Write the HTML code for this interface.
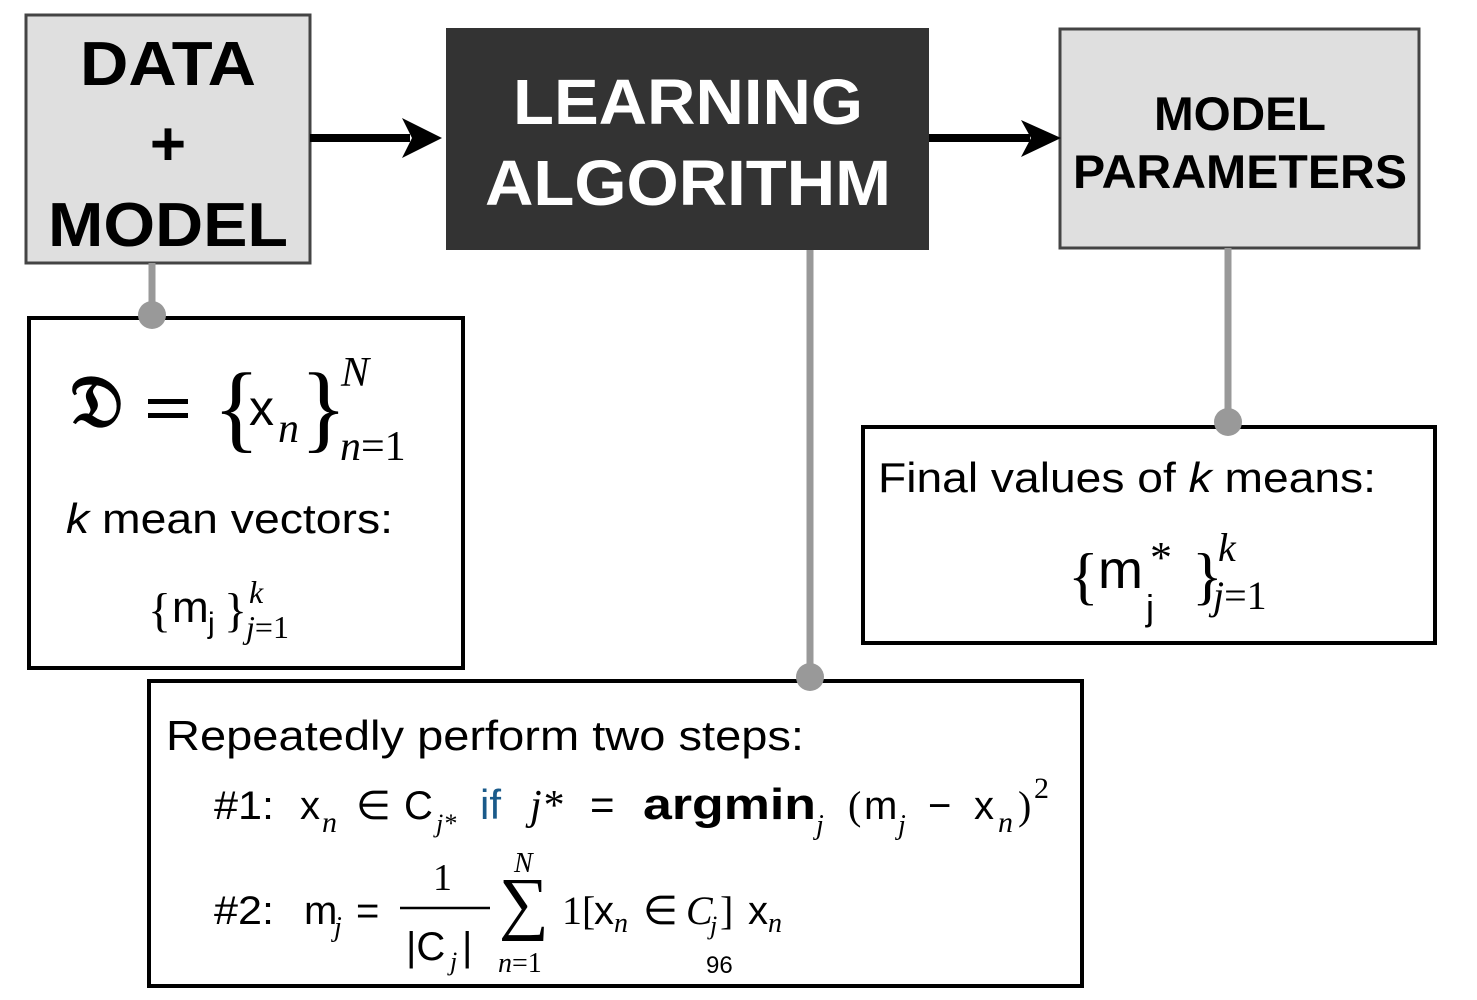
<!DOCTYPE html>
<html><head><meta charset="utf-8"><style>
html,body{margin:0;padding:0;background:#fff;width:1477px;height:1000px;overflow:hidden}
svg{display:block}
.s{font-family:"Liberation Sans",sans-serif}
.r{font-family:"Liberation Serif",serif}
</style></head><body>
<svg width="1477" height="1000" viewBox="0 0 1477 1000" xmlns="http://www.w3.org/2000/svg">
<!-- top boxes -->
<rect x="26" y="15" width="284" height="248" fill="#dfdfdf" stroke="#444" stroke-width="3"/>
<rect x="446" y="28" width="483" height="222" fill="#333"/>
<rect x="1060" y="29" width="359" height="219" fill="#dfdfdf" stroke="#444" stroke-width="3"/>
<text class="s" x="168" y="85" font-size="62" font-weight="bold" text-anchor="middle" textLength="176" lengthAdjust="spacingAndGlyphs">DATA</text>
<text class="s" x="168" y="165" font-size="62" font-weight="bold" text-anchor="middle">+</text>
<text class="s" x="168" y="246" font-size="62" font-weight="bold" text-anchor="middle" textLength="240" lengthAdjust="spacingAndGlyphs">MODEL</text>
<text class="s" x="688" y="124" font-size="64" font-weight="bold" fill="#fff" text-anchor="middle" textLength="350" lengthAdjust="spacingAndGlyphs">LEARNING</text>
<text class="s" x="688" y="205" font-size="64" font-weight="bold" fill="#fff" text-anchor="middle" textLength="406" lengthAdjust="spacingAndGlyphs">ALGORITHM</text>
<text class="s" x="1240" y="130" font-size="47" font-weight="bold" text-anchor="middle" textLength="172" lengthAdjust="spacingAndGlyphs">MODEL</text>
<text class="s" x="1240" y="188" font-size="47" font-weight="bold" text-anchor="middle" textLength="334" lengthAdjust="spacingAndGlyphs">PARAMETERS</text>
<!-- arrows -->
<line x1="310" y1="138" x2="410" y2="138" stroke="#000" stroke-width="8"/>
<path d="M442 138 L402 118 L412 138 L402 158 Z" fill="#000"/>
<line x1="929" y1="138" x2="1030" y2="138" stroke="#000" stroke-width="8"/>
<path d="M1061 138 L1021 120 L1031 138 L1021 157 Z" fill="#000"/>
<!-- connectors -->
<line x1="152" y1="263" x2="152" y2="315" stroke="#999" stroke-width="7"/>
<line x1="810" y1="250" x2="810" y2="677" stroke="#999" stroke-width="7"/>
<line x1="1228" y1="248" x2="1228" y2="422" stroke="#999" stroke-width="7"/>
<!-- lower boxes -->
<rect x="29" y="318" width="434" height="350" fill="#fff" stroke="#000" stroke-width="4"/>
<rect x="863" y="427" width="572" height="216" fill="#fff" stroke="#000" stroke-width="4"/>
<rect x="149" y="681" width="933" height="305" fill="#fff" stroke="#000" stroke-width="4"/>
<circle cx="152" cy="315" r="14" fill="#999"/>
<circle cx="810" cy="677" r="14" fill="#999"/>
<circle cx="1228" cy="422" r="14" fill="#999"/>
<!-- box1 -->
<text class="r" x="70" y="426" font-size="72" font-weight="bold">𝔇</text>
<rect x="148" y="399" width="40" height="5" fill="#000"/>
<rect x="148" y="413" width="40" height="5" fill="#000"/>
<text class="r" x="213" y="440" font-size="98">{</text>
<text class="s" x="249" y="425" font-size="50">x</text>
<text class="r" x="278" y="442" font-size="42" font-style="italic">n</text>
<text class="r" x="300" y="440" font-size="98">}</text>
<text class="r" x="341" y="386" font-size="42" font-style="italic">N</text>
<text class="r" x="340" y="460" font-size="42"><tspan font-style="italic">n</tspan>=1</text>
<text class="s" x="66" y="533" font-size="42" textLength="327" lengthAdjust="spacingAndGlyphs"><tspan font-style="italic">k</tspan> mean vectors:</text>
<text class="r" x="148" y="626" font-size="48">{</text>
<text class="s" x="172" y="622" font-size="44">m</text>
<text class="s" x="208" y="633" font-size="30">j</text>
<text class="r" x="224" y="626" font-size="48">}</text>
<text class="r" x="249" y="603" font-size="32" font-style="italic">k</text>
<text class="r" x="246" y="638" font-size="32"><tspan font-style="italic">j</tspan>=1</text>
<!-- box2 -->
<text class="s" x="878" y="492" font-size="42" textLength="498" lengthAdjust="spacingAndGlyphs">Final values of <tspan font-style="italic">k</tspan> means:</text>
<text class="r" x="1068" y="597" font-size="64">{</text>
<text class="s" x="1098" y="588" font-size="54">m</text>
<text class="s" x="1146" y="620" font-size="36">j</text>
<text class="r" x="1150" y="572" font-size="44">*</text>
<text class="r" x="1192" y="597" font-size="64">}</text>
<text class="r" x="1218" y="561" font-size="40" font-style="italic">k</text>
<text class="r" x="1213" y="609" font-size="40"><tspan font-style="italic">j</tspan>=1</text>
<!-- box3 -->
<text class="s" x="166" y="750" font-size="42" textLength="638" lengthAdjust="spacingAndGlyphs">Repeatedly perform two steps:</text>
<text class="s" x="214" y="819" font-size="40" textLength="60" lengthAdjust="spacingAndGlyphs">#1:</text>
<text class="s" x="300" y="819" font-size="40">x</text>
<text class="r" x="322" y="832" font-size="30" font-style="italic">n</text>
<text class="s" x="356" y="819" font-size="40">∈</text>
<text class="s" x="404" y="819" font-size="40">C</text>
<text class="r" x="436" y="832" font-size="26" font-style="italic">j*</text>
<text class="s" x="480" y="819" font-size="42" fill="#1a5a8a">if</text>
<text class="r" x="530" y="819" font-size="42" font-style="italic">j*</text>
<text class="s" x="590" y="819" font-size="42">=</text>
<text class="s" x="643" y="819" font-size="44" font-weight="bold" textLength="173" lengthAdjust="spacingAndGlyphs">argmin</text>
<text class="r" x="816" y="834" font-size="28" font-style="italic">j</text>
<text class="r" x="848" y="819" font-size="40">(</text>
<text class="s" x="864" y="819" font-size="40">m</text>
<text class="r" x="898" y="834" font-size="28" font-style="italic">j</text>
<text class="s" x="928" y="819" font-size="40">−</text>
<text class="s" x="974" y="819" font-size="40">x</text>
<text class="r" x="998" y="832" font-size="30" font-style="italic">n</text>
<text class="r" x="1018" y="819" font-size="40">)</text>
<text class="r" x="1034" y="798" font-size="30">2</text>
<text class="s" x="214" y="924" font-size="40" textLength="60" lengthAdjust="spacingAndGlyphs">#2:</text>
<text class="s" x="304" y="924" font-size="40">m</text>
<text class="r" x="334" y="936" font-size="28" font-style="italic">j</text>
<text class="s" x="356" y="924" font-size="40">=</text>
<text class="r" x="433" y="890" font-size="38">1</text>
<line x1="400" y1="908" x2="490" y2="908" stroke="#000" stroke-width="2.5"/>
<text class="s" x="406" y="960" font-size="40">|C</text>
<text class="r" x="450" y="970" font-size="26" font-style="italic">j</text>
<text class="s" x="462" y="960" font-size="40">|</text>
<text class="r" x="499" y="926" font-size="70">∑</text>
<text class="r" x="514" y="872" font-size="28" font-style="italic">N</text>
<text class="r" x="498" y="972" font-size="28"><tspan font-style="italic">n</tspan>=1</text>
<text class="r" x="562" y="924" font-size="40">1[</text>
<text class="s" x="594" y="924" font-size="40">x</text>
<text class="r" x="614" y="932" font-size="28" font-style="italic">n</text>
<text class="s" x="643" y="924" font-size="40">∈</text>
<text class="r" x="686" y="924" font-size="40" font-style="italic">C</text>
<text class="r" x="710" y="934" font-size="26" font-style="italic">j</text>
<text class="r" x="720" y="924" font-size="40">]</text>
<text class="s" x="748" y="924" font-size="40">x</text>
<text class="r" x="768" y="932" font-size="28" font-style="italic">n</text>
<text class="s" x="706" y="973" font-size="24">96</text>
</svg>
</body></html>
